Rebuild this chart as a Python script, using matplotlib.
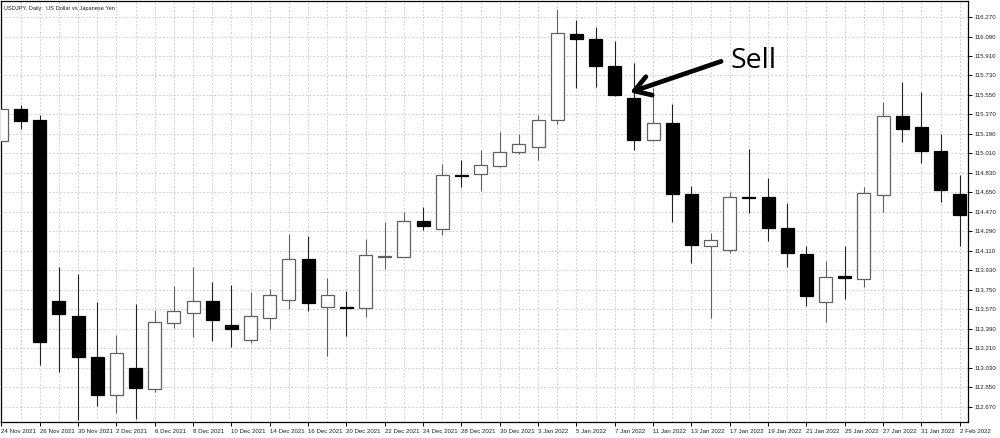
import matplotlib
matplotlib.use("Agg")
import matplotlib.pyplot as plt
import numpy as np

# ---------------- data ----------------
dates = ["24 Nov 2021", "25 Nov 2021", "26 Nov 2021", "29 Nov 2021", "30 Nov 2021",
         "1 Dec 2021", "2 Dec 2021", "3 Dec 2021", "6 Dec 2021", "7 Dec 2021",
         "8 Dec 2021", "9 Dec 2021", "10 Dec 2021", "13 Dec 2021", "14 Dec 2021",
         "15 Dec 2021", "16 Dec 2021", "17 Dec 2021", "20 Dec 2021", "21 Dec 2021",
         "22 Dec 2021", "23 Dec 2021", "24 Dec 2021", "27 Dec 2021", "28 Dec 2021",
         "29 Dec 2021", "30 Dec 2021", "31 Dec 2021", "3 Jan 2022", "4 Jan 2022",
         "5 Jan 2022", "6 Jan 2022", "7 Jan 2022", "10 Jan 2022", "11 Jan 2022",
         "12 Jan 2022", "13 Jan 2022", "14 Jan 2022", "17 Jan 2022", "18 Jan 2022",
         "19 Jan 2022", "20 Jan 2022", "21 Jan 2022", "24 Jan 2022", "25 Jan 2022",
         "26 Jan 2022", "27 Jan 2022", "28 Jan 2022", "31 Jan 2022", "1 Feb 2022",
         "2 Feb 2022"]

opens = [115.125, 115.417, 115.316, 113.649, 113.511, 113.129, 112.775, 113.027, 112.833, 113.440,
         113.533, 113.646, 113.425, 113.283, 113.487, 113.658, 114.032, 113.594, 113.590, 113.579,
         114.050, 114.056, 114.385, 114.309, 114.810, 114.817, 114.896, 115.026, 115.066, 115.316,
         116.116, 116.064, 115.817, 115.524, 115.131, 115.291, 114.635, 114.157, 114.118, 114.603,
         114.604, 114.318, 114.083, 113.634, 113.875, 113.847, 114.626, 115.355, 115.251, 115.032,
         114.638]
highs = [115.440, 115.457, 115.365, 113.961, 113.893, 113.634, 113.332, 113.619, 113.561, 113.785,
         113.961, 113.819, 113.794, 113.727, 113.755, 114.268, 114.250, 113.859, 113.739, 114.222,
         114.379, 114.471, 114.515, 114.912, 114.949, 115.041, 115.205, 115.189, 115.367, 116.344,
         116.240, 116.178, 116.046, 115.848, 115.617, 115.464, 114.712, 114.272, 114.651, 115.051,
         114.785, 114.549, 114.155, 114.013, 114.155, 114.697, 115.485, 115.670, 115.577, 115.189,
         114.808]
lows = [115.110, 115.238, 113.052, 112.991, 112.547, 112.676, 112.615, 112.554, 112.809, 113.400,
        113.317, 113.280, 113.224, 113.261, 113.385, 113.575, 113.554, 113.141, 113.326, 113.501,
        113.945, 114.050, 114.302, 114.256, 114.702, 114.665, 114.881, 115.002, 114.949, 115.282,
        115.617, 115.621, 115.540, 115.041, 115.125, 114.379, 114.000, 113.487, 114.087, 114.457,
        114.203, 113.963, 113.600, 113.455, 113.665, 113.779, 114.471, 115.115, 114.919, 114.564,
        114.155]
closes = [115.417, 115.312, 113.265, 113.524, 113.132, 112.775, 113.163, 112.840, 113.450, 113.551,
          113.646, 113.474, 113.385, 113.508, 113.702, 114.032, 113.625, 113.705, 113.586, 114.069,
          114.059, 114.385, 114.336, 114.808, 114.806, 114.906, 115.026, 115.094, 115.319, 116.119,
          116.067, 115.817, 115.549, 115.131, 115.291, 114.635, 114.161, 114.207, 114.604, 114.598,
          114.318, 114.090, 113.695, 113.871, 113.856, 114.641, 115.355, 115.233, 115.029, 114.675,
          114.438]

price_ticks = [112.670 + 0.18 * k for k in range(21)]
title_text = "USDJPY, Daily:  US Dollar vs Japanese Yen"
sell_label = "Sell"
sell_index = 33

# ---------------- figure ----------------
W, H = 1000, 438
fig = plt.figure(figsize=(W / 100, H / 100), dpi=100)
ax = fig.add_axes([1 / W, 16 / H, 967 / W, 421 / H])

n = len(opens)
x = np.arange(n)
o = np.array(opens); c = np.array(closes)
hi = np.array(highs); lo = np.array(lows)
up = c >= o

bull_edge = "#606060"
bear_col = "#000000"

# wicks
wick_colors = [bull_edge if u else "#202020" for u in up]
ax.vlines(x, lo, hi, colors=wick_colors, linewidth=0.8, zorder=2)

# bodies
bottoms = np.minimum(o, c)
heights = np.abs(c - o)
face = ["white" if u else bear_col for u in up]
edge = [bull_edge if u else bear_col for u in up]
ax.bar(x, heights, bottom=bottoms, width=0.68, color=face, edgecolor=edge,
       linewidth=0.9, zorder=3)

# axes
ax.set_xlim(-0.02, 50.43)
ax.set_ylim(112.529, 116.418)

ax.yaxis.tick_right()
ax.set_yticks(price_ticks)
ax.set_yticklabels([f"{v:.3f}" for v in price_ticks])
major_x = x[::2]
ax.set_xticks(major_x)
ax.set_xticklabels([dates[i] for i in major_x], ha="left")
ax.set_xticks(x, minor=True)

tick_font = {"family": "Liberation Sans", "size": 4.4, "color": "#202020"}
for lab in ax.get_yticklabels() + ax.get_xticklabels():
    lab.set_fontfamily(tick_font["family"])
    lab.set_fontsize(tick_font["size"])
    lab.set_color(tick_font["color"])

ax.tick_params(axis="y", which="major", length=3, width=0.7, pad=1.5, direction="out")
ax.tick_params(axis="x", which="major", length=3, width=0.7, pad=2, direction="out")
ax.tick_params(axis="both", which="minor", length=0)

grid_kw = dict(color="#c8c8c8", linestyle=(0, (2.2, 2.2)), linewidth=0.6)
ax.grid(True, axis="y", which="major", **grid_kw)
ax.grid(True, axis="x", which="both", **grid_kw)
ax.set_axisbelow(True)

for s in ax.spines.values():
    s.set_color("#000000")
    s.set_linewidth(0.9)

# title
ax.text(0.003, 0.987, title_text, transform=ax.transAxes, ha="left", va="top",
        fontsize=4.1, family="Liberation Sans", color="#202020")

# sell annotation
tip = (sell_index - 0.2, opens[sell_index] + 0.05)
ax.annotate("", xy=tip, xytext=(91, 31), textcoords="offset pixels",
            arrowprops=dict(arrowstyle="->,head_length=0.8,head_width=0.5",
                            lw=3.4, color="black", shrinkA=0, shrinkB=0,
                            mutation_scale=14), zorder=5)
ax.annotate(sell_label, xy=tip, xytext=(100, 24), textcoords="offset pixels",
            ha="left", va="baseline", fontsize=20.5, family="Open Sans",
            color="black", zorder=5)

fig.savefig("out.png", dpi=100)
